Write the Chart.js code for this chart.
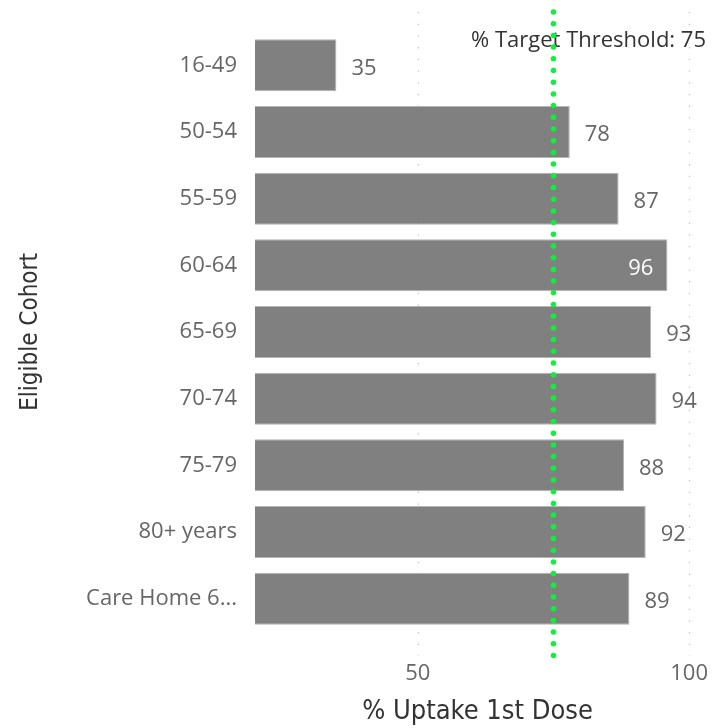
<!DOCTYPE html>
<html>
<head>
<meta charset="utf-8">
<script src="https://cdn.jsdelivr.net/npm/chart.js@4"></script>
<style>
  html, body { margin: 0; padding: 0; background: #fff; }
  #wrap { width: 717px; height: 728px; }
</style>
</head>
<body>
<div id="wrap"><canvas id="chart"></canvas></div>
<script>
const cohorts = ['16-49', '50-54', '55-59', '60-64', '65-69', '70-74', '75-79', '80+ years', 'Care Home 6...']
const uptake = [35, 78, 87, 96, 93, 94, 88, 92, 89]
const xTicks = [50, 100]
const threshold = 75
const thresholdLabel = '% Target Threshold: ' + threshold

const labelFont = '"Open Sans", "Noto Sans", sans-serif'
const titleFont = '"DejaVu Sans Condensed", "DejaVu Sans", sans-serif'

// dotted grid + threshold line + value labels
const extras = {
    id: 'extras',
    beforeDatasetsDraw(chart) {
        const ctx = chart.ctx
        const x = chart.scales.x
        ctx.save()
        ctx.strokeStyle = '#c4c4c4'
        ctx.lineWidth = 1.3
        ctx.setLineDash([1.3, 10.4])
        xTicks.forEach(v => {
            const px = Math.round(x.getPixelForValue(v)) + 0.5
            ctx.beginPath()
            ctx.moveTo(px, 12)
            ctx.lineTo(px, 656)
            ctx.stroke()
        })
        ctx.restore()
    },
    afterDatasetsDraw(chart) {
        const ctx = chart.ctx
        const x = chart.scales.x
        const meta = chart.getDatasetMeta(0)
        ctx.save()
        ctx.font = '22px ' + labelFont
        ctx.textBaseline = 'middle'
        meta.data.forEach((bar, i) => {
            const v = uptake[i]
            const end = bar.x
            ctx.fillStyle = '#666666'
            if (end + 40 > chart.chartArea.right) {
                ctx.fillStyle = '#ffffff'
                ctx.textAlign = 'right'
                ctx.fillText(v, end - 14, bar.y + 3)
            } else {
                ctx.textAlign = 'left'
                ctx.fillText(v, end + 15, bar.y + 3)
            }
        })

        // threshold label
        ctx.fillStyle = '#333333'
        ctx.textAlign = 'right'
        ctx.fillText(thresholdLabel, 706, 41)

        // threshold line
        const tx = x.getPixelForValue(threshold)
        ctx.strokeStyle = '#0ef03c'
        ctx.lineWidth = 5.5
        ctx.lineCap = 'round'
        ctx.setLineDash([0, 11.7])
        ctx.beginPath()
        ctx.moveTo(tx, 12)
        ctx.lineTo(tx, 656)
        ctx.stroke()
        ctx.restore()
    }
}

new Chart(document.getElementById('chart'), {
    type: 'bar',
    data: {
        labels: cohorts,
        datasets: [{
            label: '% Uptake 1st Dose',
            data: uptake,
            backgroundColor: '#808080',
            borderColor: '#b4b4b4',
            borderWidth: 1,
            categoryPercentage: 0.78,
            barPercentage: 1
        }]
    },
    options: {
        indexAxis: 'y',
        responsive: true,
        maintainAspectRatio: false,
        animation: false,
        layout: { padding: { top: 32, right: 17, left: 0, bottom: 0 } },
        plugins: {
            legend: { display: false },
            tooltip: { enabled: false }
        },
        scales: {
            x: {
                min: 20,
                max: 102,
                afterBuildTicks: axis => { axis.ticks = xTicks.map(v => ({ value: v })) },
                afterFit: axis => {
                    axis.height = 96
                    axis.paddingLeft = 0
                    axis.paddingRight = 0
                },
                grid: { display: false, drawTicks: false },
                border: { display: false },
                ticks: {
                    padding: 29,
                    color: '#666666',
                    font: { family: labelFont, size: 22 }
                },
                title: {
                    display: true,
                    text: '% Uptake 1st Dose',
                    color: '#333333',
                    font: { family: titleFont, size: 27 },
                    padding: { top: 6, bottom: 0 }
                }
            },
            y: {
                afterFit: axis => {
                    axis.width = 255
                    axis.paddingTop = 0
                    axis.paddingBottom = 0
                },
                grid: { display: false, drawTicks: false },
                border: { display: false },
                ticks: {
                    padding: 18,
                    color: '#666666',
                    font: { family: labelFont, size: 22 }
                },
                title: {
                    display: true,
                    text: 'Eligible Cohort',
                    color: '#333333',
                    font: { family: titleFont, size: 24 },
                    padding: { top: 16, bottom: 0 }
                }
            }
        }
    },
    plugins: [extras]
});
</script>
</body>
</html>
